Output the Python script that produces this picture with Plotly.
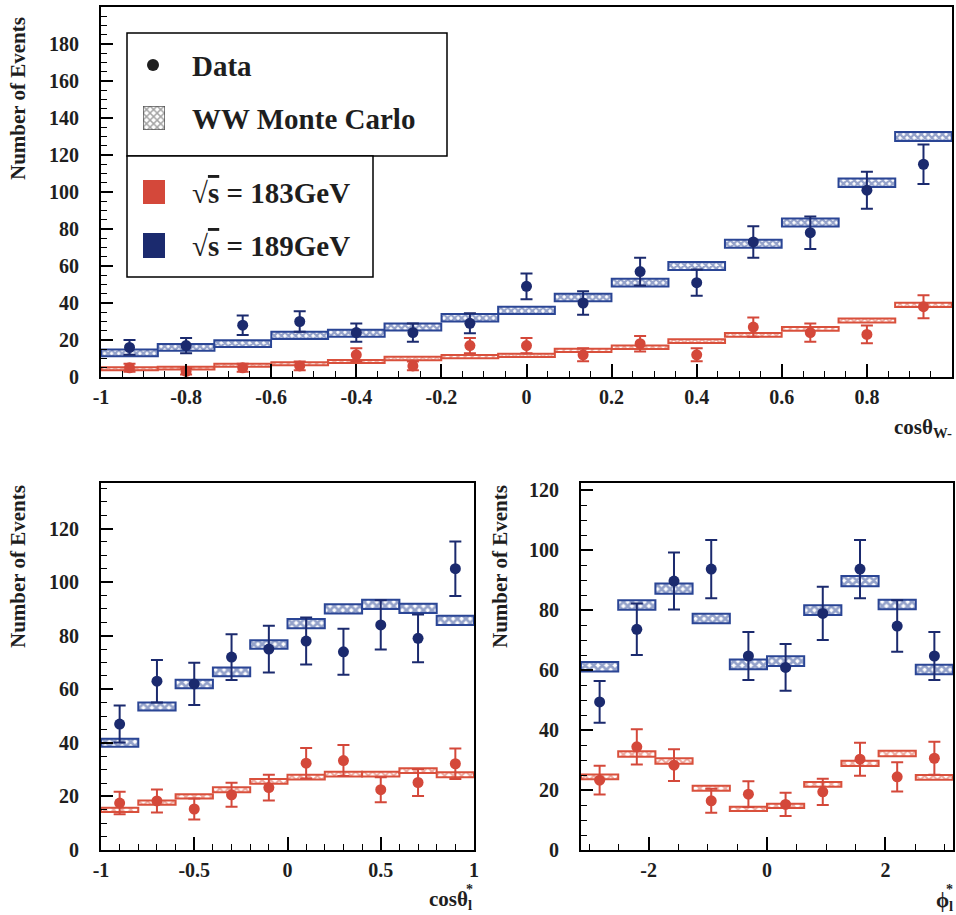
import plotly.graph_objects as go

# ---------------- data ----------------
# top panel: cos(theta_W-)
top_centers = [-0.933, -0.8, -0.667, -0.533, -0.4, -0.267, -0.133, 0.0, 0.133, 0.267, 0.4, 0.533, 0.667, 0.8, 0.933]
top_bin_width = 0.1333
top_data_189 = [16, 17, 28, 30, 24, 24, 29, 49, 40, 57, 51, 73, 78, 101, 115]
top_err_189 = [4.0, 4.1, 5.3, 5.5, 4.9, 4.9, 5.4, 7.0, 6.3, 7.5, 7.1, 8.5, 8.8, 10.0, 10.7]
top_data_183 = [5, 3, 5, 6, 12, 6, 17, 17, 12, 18, 12, 27, 24, 23, 38]
top_err_183 = [2.2, 1.7, 2.2, 2.4, 3.5, 2.4, 4.1, 4.1, 3.5, 4.2, 3.5, 5.2, 4.9, 4.8, 6.2]
top_mc_189 = [13, 16, 18, 22.5, 23.7, 27, 32, 36, 43, 51, 60, 72, 83.5, 105, 130]
top_mc_189_half = [1.8, 1.8, 1.8, 1.9, 1.9, 1.9, 2.0, 2.0, 2.0, 2.1, 2.1, 2.2, 2.2, 2.3, 2.4]
top_mc_183 = [4.5, 4.8, 6.3, 7.2, 8.4, 10, 11, 11.7, 14.4, 16.1, 19.4, 22.8, 26, 30.5, 39]
top_mc_183_half = [0.8, 0.8, 0.8, 0.8, 0.8, 0.9, 0.9, 0.9, 0.9, 0.9, 1.0, 1.0, 1.0, 1.1, 1.1]
top_xticks = [-1, -0.8, -0.6, -0.4, -0.2, 0, 0.2, 0.4, 0.6, 0.8, 1]
top_xticklabels = ["-1", "-0.8", "-0.6", "-0.4", "-0.2", "0", "0.2", "0.4", "0.6", "0.8", "1"]
top_yticks = [0, 20, 40, 60, 80, 100, 120, 140, 160, 180]
top_yticklabels = ["0", "20", "40", "60", "80", "100", "120", "140", "160", "180"]

# bottom-left: cos(theta*_l)
bl_centers = [-0.9, -0.7, -0.5, -0.3, -0.1, 0.1, 0.3, 0.5, 0.7, 0.9]
bl_bin_width = 0.2
bl_data_189 = [47, 63, 62, 72, 75, 78, 74, 84, 79, 105]
bl_err_189 = [6.9, 7.9, 7.9, 8.5, 8.7, 8.8, 8.6, 9.2, 8.9, 10.2]
bl_data_183 = [17.5, 18.3, 15.3, 20.6, 23.3, 32.4, 33.4, 22.5, 25.2, 32.2]
bl_err_183 = [4.2, 4.3, 3.9, 4.5, 4.8, 5.7, 5.8, 4.7, 5.0, 5.7]
bl_mc_189 = [40, 53.6, 62, 66.5, 76.7, 84.5, 90, 91.7, 90.2, 85.7]
bl_mc_189_half = [1.5, 1.5, 1.6, 1.6, 1.6, 1.7, 1.7, 1.7, 1.7, 1.7]
bl_mc_183 = [15, 17.7, 20, 22.5, 25.6, 27.2, 28.3, 28.3, 29.6, 28.1]
bl_mc_183_half = [0.8, 0.8, 0.8, 0.9, 0.9, 0.9, 0.9, 0.9, 0.9, 0.9]
bl_xticks = [-1, -0.5, 0, 0.5, 1]
bl_xticklabels = ["-1", "-0.5", "0", "0.5", "1"]
bl_yticks = [0, 20, 40, 60, 80, 100, 120]
bl_yticklabels = ["0", "20", "40", "60", "80", "100", "120"]

# bottom-right: phi*_l
br_centers = [-2.827, -2.199, -1.571, -0.942, -0.314, 0.314, 0.942, 1.571, 2.199, 2.827]
br_bin_width = 0.6283
br_data_189 = [49.4, 73.6, 89.7, 93.7, 64.7, 60.9, 78.9, 93.7, 74.7, 64.7]
br_err_189 = [7.0, 8.6, 9.5, 9.7, 8.0, 7.8, 8.9, 9.7, 8.6, 8.0]
br_data_183 = [23.3, 34.4, 28.3, 16.4, 18.6, 15.2, 19.4, 30.3, 24.4, 30.6]
br_err_183 = [4.8, 5.9, 5.3, 4.0, 4.3, 3.9, 4.4, 5.5, 4.9, 5.5]
br_mc_189 = [61.1, 81.7, 87.2, 77.2, 61.9, 63, 80, 89.7, 81.9, 60.2]
br_mc_189_half = [1.6, 1.6, 1.7, 1.6, 1.6, 1.6, 1.6, 1.7, 1.6, 1.6]
br_mc_183 = [24.4, 32, 29.7, 20.6, 13.7, 14.7, 21.9, 28.9, 32.2, 24.2]
br_mc_183_half = [0.8, 0.9, 0.9, 0.8, 0.7, 0.7, 0.8, 0.9, 0.9, 0.8]
br_xticks = [-2, 0, 2]
br_xticklabels = ["-2", "0", "2"]
br_yticks = [0, 20, 40, 60, 80, 100, 120]
br_yticklabels = ["0", "20", "40", "60", "80", "100", "120"]

# ---------------- style ----------------
W, H = 956, 915
BLUE_DATA = "#1b2a6e"
BLUE_MC = "#2a4595"
RED_DATA = "#d4483a"
RED_MC = "#d9503c"
FONT = "Liberation Serif"
TXT = "#1e1e1e"


def px_x(p):
    return p / W


def px_y(p):
    return 1 - p / H


fig = go.Figure()


def add_panel(xa, ya, centers, width, mc189, h189, mc183, h183, d189, e189, d183, e183, psize):
    for mc, hh, col, sol in ((mc189, h189, BLUE_MC, 0.7), (mc183, h183, RED_MC, 0.55)):
        fig.add_trace(go.Bar(
            x=centers, y=[2 * h for h in hh], base=[m - h for m, h in zip(mc, hh)],
            width=width, xaxis=xa, yaxis=ya, showlegend=False,
            marker=dict(color="white",
                        pattern=dict(shape="x", fgcolor=col, bgcolor="white", size=psize, solidity=sol),
                        line=dict(color=col, width=2)),
        ))
    for d, e, col in ((d189, e189, BLUE_DATA), (d183, e183, RED_DATA)):
        fig.add_trace(go.Scatter(
            x=centers, y=d, xaxis=xa, yaxis=ya, mode="markers", showlegend=False,
            marker=dict(color=col, size=11),
            error_y=dict(type="data", array=e, color=col, thickness=2, width=6),
        ))


add_panel("x", "y", top_centers, top_bin_width, top_mc_189, top_mc_189_half, top_mc_183, top_mc_183_half,
          top_data_189, top_err_189, top_data_183, top_err_183, 5)
add_panel("x2", "y2", bl_centers, bl_bin_width, bl_mc_189, bl_mc_189_half, bl_mc_183, bl_mc_183_half,
          bl_data_189, bl_err_189, bl_data_183, bl_err_183, 6)
add_panel("x3", "y3", br_centers, br_bin_width, br_mc_189, br_mc_189_half, br_mc_183, br_mc_183_half,
          br_data_189, br_err_189, br_data_183, br_err_183, 6)

# legend hatched square (uses its own hidden axes)
fig.add_trace(go.Bar(
    x=[0.5], y=[1], base=[0], width=1, xaxis="x4", yaxis="y4", showlegend=False,
    marker=dict(color="white", pattern=dict(shape="x", fgcolor="#4a4a4a", size=5, solidity=0.5),
                line=dict(color="#555555", width=1.5)),
))

tickfont = dict(family=FONT, size=20, color=TXT, weight="bold")


def xaxis(domain, anchor, rng, tv, tt, minor_dtick, minor_tick0):
    return dict(domain=domain, anchor=anchor, range=rng, tickmode="array", tickvals=tv, ticktext=tt,
                ticks="inside", ticklen=13, tickwidth=1.5, tickcolor="black",
                minor=dict(ticks="inside", ticklen=6, tickwidth=1.2, tickcolor="black",
                           tickmode="linear", tick0=minor_tick0, dtick=minor_dtick),
                showline=True, mirror=True, linecolor="black", linewidth=2, automargin=False,
                showgrid=False, zeroline=False, tickfont=tickfont, ticklabelstandoff=1, fixedrange=True)


def yaxis(domain, anchor, rng, tv, tt):
    return dict(domain=domain, anchor=anchor, range=rng, tickmode="array", tickvals=tv, ticktext=tt,
                ticks="inside", ticklen=12, tickwidth=1.5, tickcolor="black",
                minor=dict(ticks="inside", ticklen=6, tickwidth=1.2, tickcolor="black",
                           tickmode="linear", tick0=0, dtick=5),
                showline=True, mirror=True, linecolor="black", linewidth=2, automargin=False,
                showgrid=False, zeroline=False, tickfont=tickfont, ticklabelstandoff=16, fixedrange=True)


fig.update_layout(
    width=W, height=H, margin=dict(l=0, r=0, t=0, b=0, autoexpand=False),
    paper_bgcolor="white", plot_bgcolor="white", barmode="overlay", showlegend=False,
    xaxis=xaxis([px_x(101), px_x(952)], "y", [-1, 1], top_xticks, top_xticklabels, 0.05, -1),
    yaxis=yaxis([px_y(377), px_y(7)], "x", [0, 200], top_yticks, top_yticklabels),
    xaxis2=xaxis([px_x(101), px_x(474)], "y2", [-1, 1], bl_xticks, bl_xticklabels, 0.1, -1),
    yaxis2=yaxis([px_y(850), px_y(483)], "x2", [0, 137], bl_yticks, bl_yticklabels),
    xaxis3=xaxis([px_x(581), px_x(953)], "y3", [-3.1416, 3.1416], br_xticks, br_xticklabels, 0.5, -3),
    yaxis3=yaxis([px_y(850), px_y(483)], "x3", [0, 122.4], br_yticks, br_yticklabels),
    xaxis4=dict(domain=[px_x(143), px_x(165)], anchor="y4", range=[0, 1], visible=False, fixedrange=True,
                automargin=False),
    yaxis4=dict(domain=[px_y(130), px_y(106)], anchor="x4", range=[0, 1], visible=False, fixedrange=True,
                automargin=False),
)

# legend boxes and swatches
shapes = [
    dict(type="rect", xref="paper", yref="paper", x0=px_x(127), x1=px_x(447), y0=px_y(156), y1=px_y(33),
         line=dict(color="black", width=1.5), fillcolor="white", layer="below"),
    dict(type="rect", xref="paper", yref="paper", x0=px_x(127), x1=px_x(373), y0=px_y(277), y1=px_y(156),
         line=dict(color="black", width=1.5), fillcolor="white", layer="below"),
    dict(type="circle", xref="paper", yref="paper", x0=px_x(147), x1=px_x(159), y0=px_y(71), y1=px_y(59),
         line=dict(color=TXT, width=0), fillcolor=TXT),
    dict(type="rect", xref="paper", yref="paper", x0=px_x(143), x1=px_x(165), y0=px_y(204), y1=px_y(180),
         line=dict(color=RED_DATA, width=0), fillcolor=RED_DATA),
    dict(type="rect", xref="paper", yref="paper", x0=px_x(143), x1=px_x(165), y0=px_y(258), y1=px_y(233),
         line=dict(color=BLUE_DATA, width=0), fillcolor=BLUE_DATA),
]
fig.update_layout(shapes=shapes)

legfont = dict(family=FONT, size=29, color=TXT, weight="bold")
titlefont = dict(family=FONT, size=21, color=TXT, weight="bold")
starfont = dict(family=FONT, size=14, color=TXT, weight="bold")
ann = [
    dict(text="Data", x=px_x(190), y=px_y(66), xanchor="left", yanchor="middle", font=legfont),
    dict(text="WW Monte Carlo", x=px_x(190), y=px_y(119), xanchor="left", yanchor="middle", font=legfont),
    dict(text="√<span style='text-decoration:overline'>s</span> = 183GeV", x=px_x(190), y=px_y(193),
         xanchor="left", yanchor="middle", font=legfont),
    dict(text="√<span style='text-decoration:overline'>s</span> = 189GeV", x=px_x(190), y=px_y(246),
         xanchor="left", yanchor="middle", font=legfont),
    dict(text="Number of Events", x=px_x(18), y=px_y(99), textangle=-90, xanchor="center", yanchor="middle",
         font=titlefont),
    dict(text="Number of Events", x=px_x(18), y=px_y(567), textangle=-90, xanchor="center", yanchor="middle",
         font=titlefont),
    dict(text="Number of Events", x=px_x(500), y=px_y(567), textangle=-90, xanchor="center", yanchor="middle",
         font=titlefont),
    dict(text="cosθ<sub>W-</sub>", x=px_x(954), y=px_y(428), xanchor="right", yanchor="middle", font=titlefont),
    dict(text="cosθ<sub>l</sub>", x=px_x(474), y=px_y(900), xanchor="right", yanchor="middle", font=titlefont),
    dict(text="*", x=px_x(475), y=px_y(889), xanchor="right", yanchor="middle", font=starfont),
    dict(text="ϕ<sub>l</sub>", x=px_x(955), y=px_y(901), xanchor="right", yanchor="middle", font=titlefont),
    dict(text="*", x=px_x(955), y=px_y(889), xanchor="right", yanchor="middle", font=starfont),
]
for a in ann:
    a.update(xref="paper", yref="paper", showarrow=False)
fig.update_layout(annotations=ann)

fig.write_html("out.html", config={"displayModeBar": False},
               post_script="document.body.style.margin='0';document.body.style.overflow='hidden';")
